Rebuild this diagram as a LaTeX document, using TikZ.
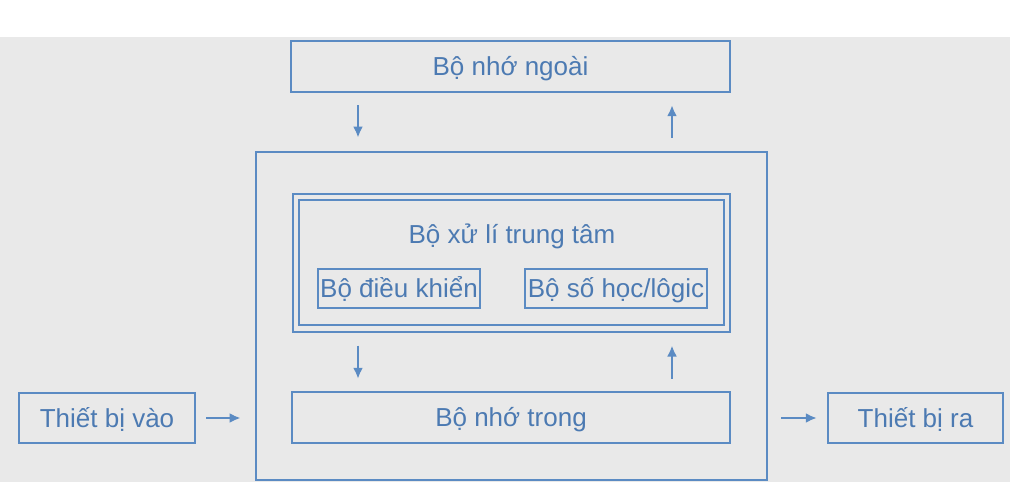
\documentclass[tikz,border=0pt]{standalone}
\usepackage{fontspec}
\setmainfont{Liberation Sans}
\usetikzlibrary{arrows.meta}
\definecolor{boxblue}{HTML}{5B8BC3}
\definecolor{textblue}{HTML}{4C7AB2}
\definecolor{paper}{HTML}{E9E9E9}

\begin{document}
\begin{tikzpicture}[x=1pt,y=-1pt,
  box/.style={draw=boxblue,line width=2.4pt,inner sep=0pt,text=textblue,text height=18.6pt,text depth=0pt,font=\fontsize{26}{30}\selectfont},
  arr/.style={draw=boxblue,line width=2.8pt,-{Latex[length=11pt,width=10pt]}}]
\useasboundingbox (0,0) rectangle (1024,497);
\fill[white] (0,0) rectangle (1024,497);
\fill[paper] (0,37) rectangle (1010,482);
% khoi may tinh
\node[box,minimum width=439pt,minimum height=51pt] (ngoai) at (510.5,66.5) {Bộ nhớ ngoài};
\node[box,line width=2.8pt,minimum width=511pt,minimum height=328pt] (may) at (511.5,316) {};
\node[box,line width=2pt,double=paper,double distance=4.5pt,minimum width=431pt,minimum height=131.5pt] (cpu) at (511.5,262.75) {};
\node[text=textblue,inner sep=0pt,text height=18.6pt,text depth=0pt,font=\fontsize{26}{30}\selectfont] (xuli) at (512,234) {Bộ xử lí trung tâm};
\node[box,line width=2pt,minimum width=162pt,minimum height=39pt] (dieukhien) at (399,288.5) {Bộ điều khiển};
\node[box,line width=2pt,minimum width=182pt,minimum height=39pt] (sohoc) at (616,288.5) {Bộ số học/lôgic};
\node[box,minimum width=438pt,minimum height=51pt] (trong) at (511,417.5) {Bộ nhớ trong};
\node[box,minimum width=176pt,minimum height=50pt] (vao) at (107,418) {Thiết bị vào};
\node[box,minimum width=175pt,minimum height=50pt] (ra) at (915.5,418) {Thiết bị ra};
% mui ten
\coordinate (xl) at (358,0);
\coordinate (xr) at (672,0);
\draw[arr,shorten <=12pt,shorten >=13pt] (ngoai.south -| xl) -- (may.north -| xl);
\draw[arr,shorten <=13pt,shorten >=12pt] (may.north -| xr) -- (ngoai.south -| xr);
\draw[arr,shorten <=16pt,shorten >=12pt] (cpu.south -| xl) -- (trong.north -| xl);
\draw[arr,shorten <=12pt,shorten >=16pt] (trong.north -| xr) -- (cpu.south -| xr);
\draw[arr,shorten <=10pt,shorten >=14pt] (vao.east) -- (may.west |- vao.east);
\draw[arr,shorten <=13pt,shorten >=10pt] (may.east |- ra.west) -- (ra.west);
\end{tikzpicture}
\end{document}
